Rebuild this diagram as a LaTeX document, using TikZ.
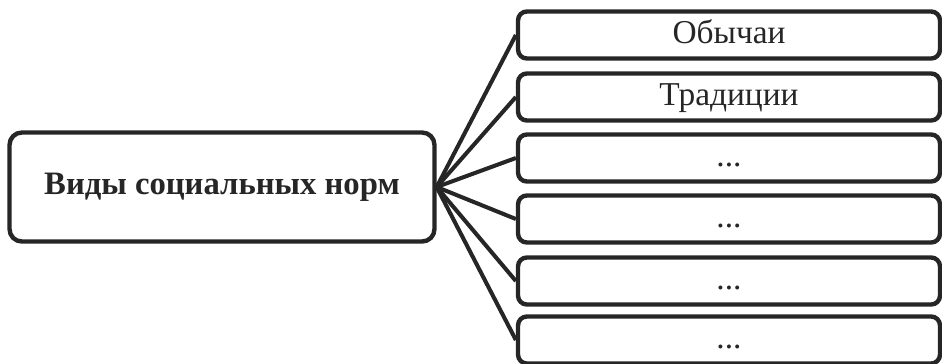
\documentclass[tikz,border=0pt]{standalone}
\usepackage{fontspec}
\setmainfont{Liberation Serif}
\definecolor{ink}{HTML}{262626}
\tikzstyle{normbox}=[draw=ink,text=ink,line width=2.5pt,rounded corners=7pt,minimum width=8.5cm,minimum height=2.18cm,inner sep=0pt,font=\fontsize{18.6}{22}\selectfont\bfseries]
\tikzstyle{kindbox}=[draw=ink,text=ink,line width=2.5pt,rounded corners=5pt,minimum width=8.44cm,minimum height=0.94cm,inner sep=0pt,text height=15pt,text depth=5pt,font=\fontsize{19}{22}\selectfont]

\begin{document}
\begin{tikzpicture}[x=0.02cm,y=-0.02cm]
    \useasboundingbox (0,0) rectangle (942,363);
    \node[normbox] (vid) at (222,187) {Виды социальных норм};
    \node[kindbox] (k1) at (729,35)  {Обычаи};
    \node[kindbox] (k2) at (729,97)  {Традиции};
    \node[kindbox] (k3) at (729,158) {...};
    \node[kindbox] (k4) at (729,219) {...};
    \node[kindbox] (k5) at (729,281) {...};
    \node[kindbox] (k6) at (729,340) {...};

    \foreach \from/\to in {vid/k1,vid/k2,vid/k3,vid/k4,vid/k5,vid/k6}
    \draw[ink,line width=2.3pt] (\from.east) -- (\to.west);
\end{tikzpicture}
\end{document}
